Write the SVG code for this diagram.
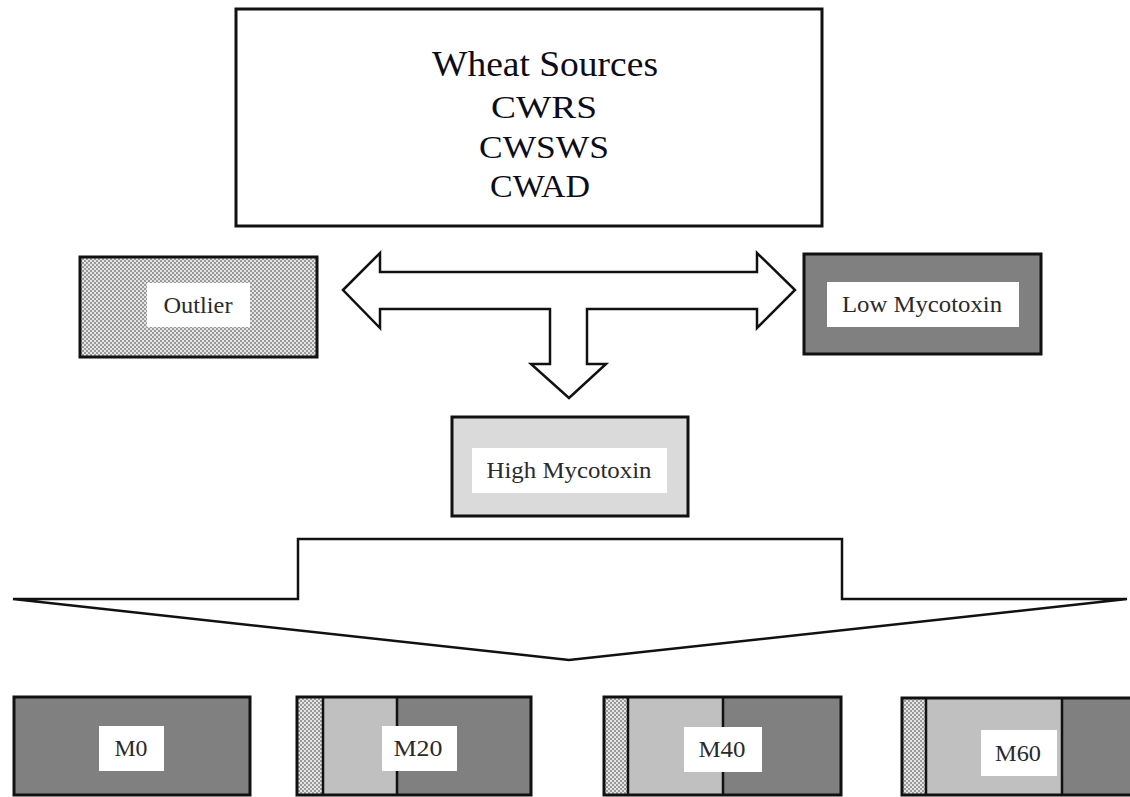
<svg xmlns="http://www.w3.org/2000/svg" width="1130" height="797" viewBox="0 0 1130 797">
<style>
.box{stroke:#111;stroke-width:3}
.arrow{fill:#fff;stroke:#111;stroke-width:2.5;stroke-linejoin:miter}
.lbl{fill:#fff}
.t{font-family:"Liberation Serif","Times New Roman",serif;fill:#2a2a2a;text-anchor:middle;font-size:23px}
.big{font-family:"Liberation Serif","Times New Roman",serif;fill:#0d0d1a;text-anchor:middle;font-size:31px}
.div{stroke:#111;stroke-width:2.5}
</style>
<defs>
<pattern id="hatch" width="4" height="4" patternUnits="userSpaceOnUse">
<rect width="4" height="4" fill="#e4e4e4"/>
<rect x="0" y="0" width="2" height="2" fill="#9a9a9a"/>
<rect x="2" y="2" width="2" height="2" fill="#9a9a9a"/>
</pattern>
</defs>
<rect width="1130" height="797" fill="#fff"/>

<g id="wheat-sources">
<rect class="box" x="236" y="9" width="586" height="217" fill="#fff"/>
<text class="big" x="545" y="76" style="font-size:35px" textLength="226" lengthAdjust="spacingAndGlyphs">Wheat Sources</text>
<text class="big" x="544" y="118" textLength="106" lengthAdjust="spacingAndGlyphs">CWRS</text>
<text class="big" x="544" y="158" textLength="130" lengthAdjust="spacingAndGlyphs">CWSWS</text>
<text class="big" x="540" y="197" textLength="100" lengthAdjust="spacingAndGlyphs">CWAD</text>
</g>

<g id="outlier">
<rect class="box" x="80" y="257" width="237" height="100" fill="url(#hatch)"/>
<rect class="lbl" x="147" y="283" width="103" height="44"/>
<text class="t" x="198" y="313" textLength="69" lengthAdjust="spacingAndGlyphs">Outlier</text>
</g>

<g id="low-mycotoxin">
<rect class="box" x="804" y="254" width="237" height="100" fill="#808080"/>
<rect class="lbl" x="827" y="282" width="192" height="45"/>
<text class="t" x="922" y="312" textLength="160" lengthAdjust="spacingAndGlyphs">Low Mycotoxin</text>
</g>

<g id="high-mycotoxin">
<rect class="box" x="452" y="417" width="236" height="99" fill="#dadada"/>
<rect class="lbl" x="472" y="448" width="195" height="45"/>
<text class="t" x="569" y="478" textLength="165" lengthAdjust="spacingAndGlyphs">High Mycotoxin</text>
</g>

<g id="connectors">
<polygon class="arrow" points="343,290 380,253 380,272 757,272 757,253 795,290 757,328 757,309 587,309 587,364 606,364 569,398 531,364 550,364 550,309 380,309 380,328"/>
<polygon class="arrow" points="298,539 842,539 842,599 1127,599 569,660 13,599 298,599"/>
</g>

<g id="m0">
<rect class="box" x="14" y="697" width="236" height="98" fill="#808080"/>
<rect class="lbl" x="99" y="726" width="65" height="45"/>
<text class="t" x="131" y="756" textLength="33" lengthAdjust="spacingAndGlyphs">M0</text>
</g>

<g id="m20">
<rect x="297" y="697" width="26" height="98" fill="url(#hatch)"/>
<rect x="323" y="697" width="74" height="98" fill="#c0c0c0"/>
<rect x="397" y="697" width="134" height="98" fill="#808080"/>
<rect x="297" y="697" width="234" height="98" fill="none" class="box"/>
<line class="div" x1="323" y1="697" x2="323" y2="795"/>
<line class="div" x1="397" y1="697" x2="397" y2="795"/>
<rect class="lbl" x="382" y="726" width="75" height="45"/>
<text class="t" x="418" y="756" textLength="49" lengthAdjust="spacingAndGlyphs">M20</text>
</g>

<g id="m40">
<rect x="604" y="697" width="24" height="98" fill="url(#hatch)"/>
<rect x="628" y="697" width="95" height="98" fill="#c0c0c0"/>
<rect x="723" y="697" width="118" height="98" fill="#808080"/>
<rect x="604" y="697" width="237" height="98" fill="none" class="box"/>
<line class="div" x1="628" y1="697" x2="628" y2="795"/>
<line class="div" x1="723" y1="697" x2="723" y2="795"/>
<rect class="lbl" x="684" y="727" width="78" height="45"/>
<text class="t" x="722" y="757" textLength="47" lengthAdjust="spacingAndGlyphs">M40</text>
</g>

<g id="m60">
<rect x="902" y="698" width="24" height="97" fill="url(#hatch)"/>
<rect x="926" y="698" width="136" height="97" fill="#c0c0c0"/>
<rect x="1062" y="698" width="70" height="97" fill="#808080"/>
<rect x="902" y="698" width="240" height="97" fill="none" class="box"/>
<line class="div" x1="926" y1="698" x2="926" y2="795"/>
<line class="div" x1="1062" y1="698" x2="1062" y2="795"/>
<rect class="lbl" x="981" y="730" width="76" height="46"/>
<text class="t" x="1018" y="761" textLength="46" lengthAdjust="spacingAndGlyphs">M60</text>
</g>
</svg>
